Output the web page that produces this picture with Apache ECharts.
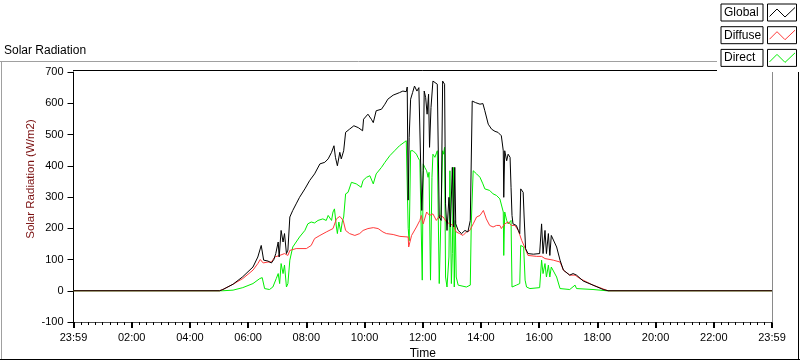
<!DOCTYPE html>
<html><head><meta charset="utf-8">
<script src="https://cdn.jsdelivr.net/npm/echarts@6.0.0/dist/echarts.min.js"></script>
<style>html,body{margin:0;padding:0;background:#fff}#c{width:800px;height:361px}</style>
</head><body><div id="c"></div>
<script>
// ---- data (time in minutes from the left 23:59 mark, value in W/m2) ----
const seriesNames = ['Global', 'Diffuse', 'Direct'];
const xTickLabels = ['23:59','02:00','04:00','06:00','08:00','10:00','12:00','14:00','16:00','18:00','20:00','22:00','23:59'];
const yTicks = [-100, 0, 100, 200, 300, 400, 500, 600, 700];

const globalData = [[0,0],[301,0],[308,4],[329,21],[349,45],[370,76],[380,108],[387,145],[392,98],[401,95],[408,89],[413,100],[417,119],[422,156],[424,108],[428,193],[432,156],[435,183],[439,119],[442,130],[446,236],[452,257],[459,278],[466,299],[477,326],[487,353],[497,374],[508,406],[518,411],[525,422],[532,443],[537,464],[540,427],[544,400],[549,443],[552,422],[557,448],[561,507],[569,517],[578,528],[587,522],[596,512],[598,549],[607,565],[614,549],[618,538],[624,576],[635,581],[642,597],[648,613],[659,626],[672,634],[679,639],[686,637],[688,652],[690,290],[692,491],[695,613],[699,634],[703,655],[708,639],[712,650],[715,655],[718,257],[721,384],[723,639],[726,618],[729,565],[732,629],[734,459],[737,586],[741,671],[745,677],[750,661],[754,236],[758,225],[761,671],[765,661],[767,278],[770,193],[774,299],[777,204],[781,395],[784,204],[786,395],[788,214],[793,193],[800,183],[807,193],[813,188],[818,225],[822,607],[829,602],[838,597],[844,599],[848,576],[855,533],[862,517],[869,510],[875,507],[882,496],[886,448],[887,299],[889,448],[893,416],[896,437],[900,427],[902,331],[904,241],[906,214],[913,209],[917,193],[920,183],[922,326],[927,315],[929,236],[932,135],[937,119],[948,117],[961,119],[965,214],[968,119],[972,193],[975,119],[979,183],[982,113],[985,177],[989,177],[996,140],[1003,98],[1010,66],[1023,50],[1030,55],[1034,60],[1037,50],[1051,31],[1071,18],[1092,4],[1102,0],[1440,0]];

const diffuseData = [[0,0],[301,0],[308,4],[329,21],[349,39],[370,66],[380,87],[385,100],[391,89],[401,92],[408,92],[415,108],[425,113],[435,119],[442,113],[446,129],[459,135],[480,135],[490,145],[497,167],[508,177],[521,188],[535,199],[542,230],[549,238],[556,225],[561,193],[569,183],[580,177],[590,183],[597,193],[607,199],[618,202],[628,199],[638,188],[645,183],[659,180],[673,174],[690,172],[691,140],[697,177],[707,204],[714,225],[717,241],[721,214],[728,252],[731,257],[734,241],[741,246],[748,225],[755,241],[762,236],[769,220],[776,214],[783,209],[789,188],[796,183],[803,177],[810,188],[817,193],[824,214],[831,236],[838,241],[845,257],[851,230],[858,209],[865,204],[872,209],[879,209],[882,199],[889,214],[896,220],[903,209],[910,209],[917,193],[924,161],[930,140],[937,113],[955,110],[965,110],[972,103],[989,98],[1003,92],[1010,66],[1023,50],[1034,50],[1044,39],[1071,18],[1102,0],[1440,0]];

const directData = [[0,0],[308,0],[329,2],[349,10],[370,23],[384,39],[389,42],[394,7],[404,4],[411,12],[418,39],[422,55],[425,23],[428,87],[432,55],[435,82],[439,12],[442,23],[446,98],[452,140],[459,156],[466,172],[477,193],[483,214],[490,220],[497,217],[504,225],[514,230],[521,225],[525,241],[532,225],[535,252],[538,262],[542,204],[544,183],[547,220],[551,188],[554,220],[557,236],[561,310],[566,315],[573,347],[583,342],[593,331],[597,353],[604,363],[611,368],[618,342],[624,374],[635,395],[642,411],[652,432],[662,448],[672,464],[686,480],[688,480],[690,200],[692,160],[695,448],[700,448],[707,437],[710,427],[714,416],[716,416],[719,34],[721,406],[724,395],[728,384],[731,363],[733,379],[736,34],[739,363],[741,437],[745,427],[750,448],[754,23],[756,23],[761,448],[763,437],[765,459],[767,44],[770,12],[774,108],[776,384],[779,23],[781,119],[783,395],[785,12],[787,225],[789,44],[793,18],[810,12],[818,18],[820,214],[824,384],[831,374],[838,363],[844,342],[848,326],[851,331],[858,321],[865,310],[872,305],[879,294],[882,289],[886,252],[887,113],[889,252],[893,225],[896,214],[900,220],[902,225],[904,12],[913,18],[920,23],[922,145],[926,151],[928,140],[931,34],[934,12],[941,7],[961,10],[965,98],[968,55],[972,87],[975,44],[979,82],[982,44],[985,76],[989,71],[996,44],[1003,7],[1023,4],[1034,18],[1037,7],[1071,4],[1099,0],[1440,0]];

const yAxisTitle = 'Solar Radiation (W/m2)';
const colors = { Global: '#000000', Diffuse: '#ff3a3a', Direct: '#00ee00' };
const FONT = '"Liberation Sans", Arial, sans-serif';

// ---- chart ----
const chart = echarts.init(document.getElementById('c'), null, { renderer: 'canvas' });

const G = { left: 73.5, right: 772, top: 72, bottom: 322 };

function legendItem(i, name) {
  const y0 = 4 + i * 22.7;
  const c = colors[name];
  return [
    { type: 'rect', shape: { x: 721, y: y0, width: 42, height: 17 }, style: { fill: '#fff', stroke: '#000', lineWidth: 1 }, z: 101 },
    { type: 'text', style: { x: 724, y: y0 + 8.5, text: name, font: '12px ' + FONT, fill: '#000', textVerticalAlign: 'middle', verticalAlign: 'middle' }, z: 102 },
    { type: 'rect', shape: { x: 767.5, y: y0, width: 29, height: 17 }, style: { fill: '#fff', stroke: '#000', lineWidth: 1 }, z: 101 },
    { type: 'polyline', shape: { points: [[769.5, y0 + 12.5], [777, y0 + 5], [785, y0 + 13], [795, y0 + 3.5]] }, style: { stroke: c, lineWidth: 1, fill: null }, z: 102 }
  ];
}

const graphics = [
  // outer sunken frame
  { type: 'line', shape: { x1: 0, y1: 61.5, x2: 717, y2: 61.5 }, style: { stroke: '#a0a0a0', lineWidth: 1 }, z: 50 },
  { type: 'line', shape: { x1: 1.5, y1: 61.5, x2: 1.5, y2: 359.5 }, style: { stroke: '#a0a0a0', lineWidth: 1 }, z: 50 },
  { type: 'line', shape: { x1: 0, y1: 359.5, x2: 800, y2: 359.5 }, style: { stroke: '#000', lineWidth: 1 }, z: 50 },
  { type: 'line', shape: { x1: 798.5, y1: 72, x2: 798.5, y2: 360 }, style: { stroke: '#000', lineWidth: 1 }, z: 50 },
  // plot border
  { type: 'line', shape: { x1: 73, y1: 70.5, x2: 772.5, y2: 70.5 }, style: { stroke: '#000', lineWidth: 1 }, z: 50 },
  { type: 'line', shape: { x1: 772.5, y1: 70.5, x2: 772.5, y2: 322.5 }, style: { stroke: '#8a8a8a', lineWidth: 1 }, z: 50 },
  // y axis title (rotated, placed as in the reference)
  { type: 'text', x: 30.5, y: 179, rotation: Math.PI / 2,
    style: { text: yAxisTitle, font: '11.5px ' + FONT, fill: '#7a1010', align: 'center', verticalAlign: 'middle' }, z: 60 },
  // legend panel
  { type: 'rect', shape: { x: 717, y: 0, width: 83, height: 72 }, style: { fill: '#fff' }, z: 100 }
];
seriesNames.forEach((n, i) => legendItem(i, n).forEach(g => graphics.push(g)));

const dataMap = { Global: globalData, Diffuse: diffuseData, Direct: directData };
const zMap = { Global: 4, Diffuse: 3, Direct: 2 };

const option = {
  animation: false,
  backgroundColor: '#fff',
  title: {
    text: 'Solar Radiation', left: 4, top: 45, padding: 0,
    textStyle: { fontFamily: FONT, fontSize: 12, fontWeight: 'normal', color: '#000' }
  },
  grid: { left: G.left, right: 800 - G.right, top: G.top, bottom: 361 - G.bottom, containLabel: false, outerBoundsMode: 'none' },
  xAxis: {
    type: 'value', min: 0, max: 1440, interval: 120,
    name: 'Time', nameLocation: 'middle', nameGap: 24,
    nameTextStyle: { fontFamily: FONT, fontSize: 12, color: '#000' },
    axisLine: { show: true, onZero: false, lineStyle: { color: '#505050', width: 1 } },
    axisTick: { show: true, inside: false, length: 6, lineStyle: { color: '#000', width: 2 } },
    minorTick: { show: true, splitNumber: 8, length: 3, lineStyle: { color: '#000', width: 1 } },
    axisLabel: {
      show: true, margin: 10, fontFamily: FONT, fontSize: 11, color: '#000',
      showMinLabel: true, showMaxLabel: true,
      formatter: v => xTickLabels[Math.round(v / 120)]
    },
    splitLine: { show: false }
  },
  yAxis: {
    type: 'value', min: yTicks[0], max: yTicks[yTicks.length - 1], interval: 100,
    axisLine: { show: true, onZero: false, lineStyle: { color: '#000', width: 1 } },
    axisTick: { show: true, inside: false, length: 6, lineStyle: { color: '#000', width: 1 } },
    axisLabel: { show: true, margin: 10, fontFamily: FONT, fontSize: 11, color: '#000' },
    splitLine: { show: false }
  },
  series: seriesNames.map(n => ({
    name: n, type: 'line', data: dataMap[n], z: zMap[n],
    showSymbol: false, symbol: 'none', smooth: false,
    lineStyle: { color: colors[n], width: 1 },
    itemStyle: { color: colors[n] },
    emphasis: { disabled: true }
  })),
  graphic: graphics
};
chart.setOption(option);
</script>
</body></html>
